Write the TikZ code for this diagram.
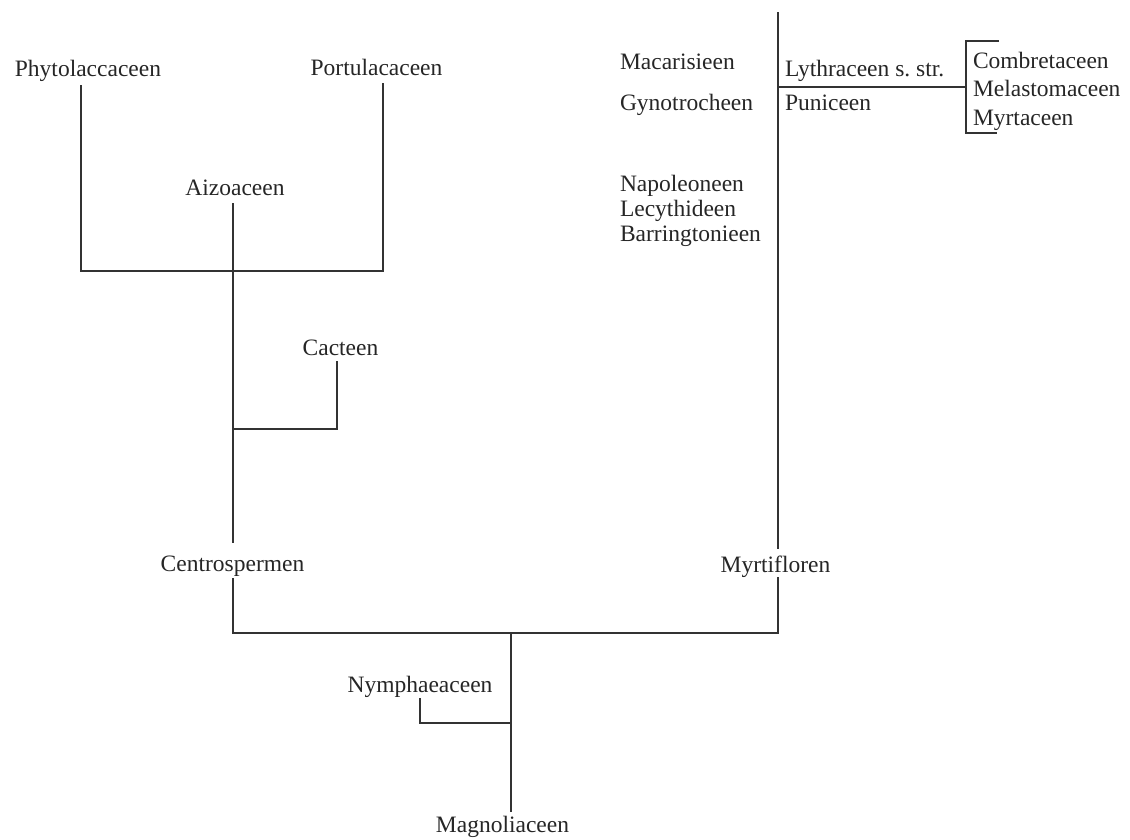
\documentclass[tikz,border=0pt]{standalone}
\usepackage{fontspec}
\setmainfont{Liberation Serif}
\begin{document}
\begin{tikzpicture}[x=1pt,y=-1pt,
  taxon/.style={inner sep=0pt,outer sep=0pt,font=\fontsize{23.5}{28}\selectfont,text=black!85},
  branch/.style={line width=1.7pt,draw=black!80,line cap=butt}]
\useasboundingbox (0,0) rectangle (1130,839);

% taxon labels (placed on their baselines)
\node[taxon,anchor=base] (phyto)  at (88,76)    {Phytolaccaceen};
\node[taxon,anchor=base] (portu)  at (376.5,75) {Portulacaceen};
\node[taxon,anchor=base] (aizo)   at (235,195)  {Aizoaceen};
\node[taxon,anchor=base] (cact)   at (340.5,355){Cacteen};
\node[taxon,anchor=base] (centro) at (232.5,571){Centrospermen};
\node[taxon,anchor=base] (myrti)  at (775.5,572){Myrtifloren};
\node[taxon,anchor=base] (nymph)  at (420,692)  {Nymphaeaceen};
\node[taxon,anchor=base] (magno)  at (502.5,832){Magnoliaceen};

\node[taxon,anchor=base west] (maca) at (620,69)  {Macarisieen};
\node[taxon,anchor=base west] (gyno) at (620,110) {Gynotrocheen};
\node[taxon,anchor=base west] (napo) at (620,191) {Napoleoneen};
\node[taxon,anchor=base west] (lecy) at (620,216) {Lecythideen};
\node[taxon,anchor=base west] (barr) at (620,241) {Barringtonieen};
\node[taxon,anchor=base west] (lyth) at (785,76)  {Lythraceen s.\ str.};
\node[taxon,anchor=base west] (puni) at (785,110) {Puniceen};
\node[taxon,anchor=base west] (comb) at (973,68)  {Combretaceen};
\node[taxon,anchor=base west] (mela) at (973,96)  {Melastomaceen};
\node[taxon,anchor=base west] (myrt) at (973,125) {Myrtaceen};

% branch points and line ends
\coordinate (phytoEnd) at (81,85);
\coordinate (portuEnd) at (383,83);
\coordinate (aizoEnd)  at (233,203);
\coordinate (aizoJoin) at (233,271);
\coordinate (cactEnd)  at (337,361);
\coordinate (cactJoin) at (233,429);
\coordinate (centroUp) at (233,543);
\coordinate (centroDn) at (233,578);
\coordinate (myrtiTop) at (778,12);
\coordinate (lythJoin) at (778,87);
\coordinate (myrtiUp)  at (778,549);
\coordinate (myrtiDn)  at (778,577);
\coordinate (rootJoin) at (511,633);
\coordinate (nymphEnd) at (420,698);
\coordinate (nymphJoin) at (511,723);
\coordinate (magnoEnd) at (511,812);
\coordinate (brTop)    at (966,41);
\coordinate (brMid)    at (966,87);
\coordinate (brBot)    at (966,133);

% Centrospermen subtree
\draw[branch] (phytoEnd) |- (portuEnd |- aizoJoin) -- (portuEnd);
\draw[branch] (aizoEnd) -- (centroUp);
\draw[branch] (cactEnd) |- (cactJoin);

% Myrtifloren subtree
\draw[branch] (myrtiTop) -- (myrtiUp);
\draw[branch] (lythJoin) -- (brMid);
\draw[branch] ([xshift=33pt]brTop) -- (brTop) -- (brBot) -- ([xshift=31pt]brBot);

% basal split
\draw[branch] (centroDn) |- (rootJoin) -| (myrtiDn);
\draw[branch] (rootJoin) -- (magnoEnd);
\draw[branch] (nymphEnd) |- (nymphJoin);
\end{tikzpicture}
\end{document}
